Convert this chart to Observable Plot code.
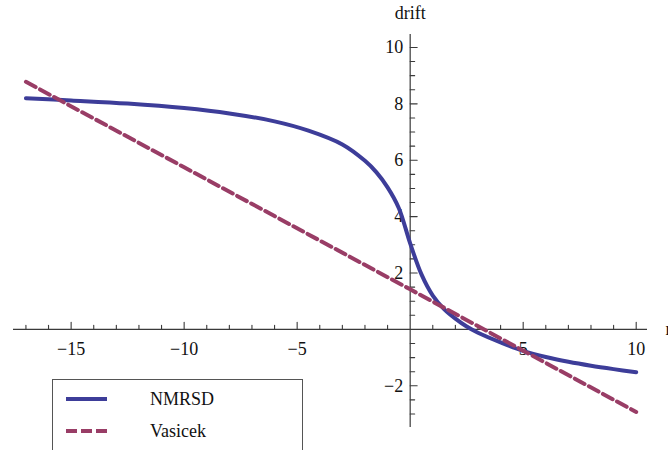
<!DOCTYPE html>
<html>
<head>
<meta charset="utf-8">
<script src="https://cdn.jsdelivr.net/npm/d3@7"></script>
<script src="https://cdn.jsdelivr.net/npm/@observablehq/plot@0.6"></script>
<style>
  html, body { margin: 0; padding: 0; background: #fff; }
  #wrap { position: relative; width: 668px; height: 450px; overflow: hidden; }
  #legend { position: absolute; left: 0; top: 0; }
  svg text { font-family: 'Liberation Serif', 'DejaVu Serif', serif; }
</style>
</head>
<body>
<div id="wrap"></div>
<script>
// ---- data ----
const nmrsdX = [-17, -15, -12.5, -10, -8, -6, -4.5, -3, -2, -1.5, -1, -0.5, 0, 0.5, 1, 1.5, 2, 2.5, 3, 4, 5, 6, 7, 8, 9, 10];
const nmrsdY = [8.2, 8.12, 8.01, 7.85, 7.66, 7.38, 7.05, 6.56, 5.98, 5.58, 5.04, 4.3, 3.05, 1.95, 1.2, 0.72, 0.38, 0.1, -0.12, -0.46, -0.76, -0.98, -1.15, -1.29, -1.41, -1.52];
const vasicekX = [-17, -10, 0, 10];
const vasicekY = [8.78, 5.75, 1.42, -2.93];
const xTickLabels = [-15, -10, -5, 5, 10];
const yTickLabels = [-2, 2, 4, 6, 8, 10];
const xMinor = [-17, -16, -14, -13, -12, -11, -9, -8, -7, -6, -4, -3, -2, -1, 1, 2, 3, 4, 6, 7, 8, 9];
const yMinor = [-3, -2.5, -1.5, -1, -0.5, 0.5, 1, 1.5, 2.5, 3, 3.5, 4.5, 5, 5.5, 6.5, 7, 7.5, 8.5, 9, 9.5];
const seriesNames = ["NMRSD", "Vasicek"];
const seriesColors = ["#3d3d99", "#993d66"];
const xAxisLabel = "r";
const yAxisLabel = "drift";

const nmrsd = nmrsdX.map((x, i) => ({x, y: nmrsdY[i]}));
const vasicek = vasicekX.map((x, i) => ({x, y: vasicekY[i]}));

const lineShape = {draw(ctx, l) { ctx.moveTo(0, 0); ctx.lineTo(0, -l); }};
const fmt = d => d < 0 ? "\u2212" + Math.abs(d) : String(d);
const axisColor = "#3a3a3a";
const font = "'Liberation Serif', 'DejaVu Serif', serif";

const chart = Plot.plot({
  width: 668,
  height: 450,
  marginLeft: 13,
  marginRight: 21,
  marginTop: 34,
  marginBottom: 23,
  x: {domain: [-17.55, 10.5], axis: null},
  y: {domain: [-3.48, 10.46], axis: null},
  style: {fontFamily: font, fontSize: "17px", background: "#fff", overflow: "visible"},
  marks: [
    Plot.ruleY([0], {x1: -17.55, x2: 10.5, stroke: axisColor, strokeWidth: 1.2}),
    Plot.ruleX([0], {y1: -3.48, y2: 10.46, stroke: axisColor, strokeWidth: 1.2}),
    Plot.vector(xTickLabels, {x: d => d, y: 0, length: 7, rotate: 0, anchor: "start", shape: lineShape, stroke: axisColor, strokeWidth: 1.1}),
    Plot.vector(xMinor, {x: d => d, y: 0, length: 4, rotate: 0, anchor: "start", shape: lineShape, stroke: axisColor, strokeWidth: 1.1}),
    Plot.vector(yTickLabels, {x: 0, y: d => d, length: 7, rotate: 90, anchor: "start", shape: lineShape, stroke: axisColor, strokeWidth: 1.1}),
    Plot.vector(yMinor, {x: 0, y: d => d, length: 4.5, rotate: 90, anchor: "start", shape: lineShape, stroke: axisColor, strokeWidth: 1.1}),
    Plot.text(xTickLabels, {x: d => d, y: 0, text: fmt, dy: 20, fill: "#111", fontSize: 18, fontFamily: font}),
    Plot.text(yTickLabels, {x: 0, y: d => d, text: fmt, dx: -7, textAnchor: "end", fill: "#111", fontSize: 18, fontFamily: font}),
    Plot.text([yAxisLabel], {x: 0, frameAnchor: "top", dy: -16, lineAnchor: "bottom", fill: "#111", fontSize: 18, fontFamily: font}),
    Plot.text([xAxisLabel], {x: 10.5, y: 0, dx: 18, textAnchor: "start", fill: "#111", fontSize: 18, fontFamily: font}),
    Plot.line(nmrsd, {x: "x", y: "y", stroke: seriesColors[0], strokeWidth: 4, curve: "catmull-rom"}),
    Plot.line(vasicek, {x: "x", y: "y", stroke: seriesColors[1], strokeWidth: 4, strokeDasharray: "11,5"})
  ]
});

const wrap = document.getElementById("wrap");
wrap.appendChild(chart);

// legend overlay
const leg = d3.select(wrap).append("svg").attr("id", "legend").attr("width", 668).attr("height", 450);
leg.append("rect").attr("x", 52.5).attr("y", 379.5).attr("width", 250).attr("height", 100)
  .attr("fill", "#fff").attr("stroke", "#555").attr("stroke-width", 1);
const rows = [399, 431];
seriesNames.forEach((name, i) => {
  leg.append("line").attr("x1", 66).attr("x2", 107).attr("y1", rows[i]).attr("y2", rows[i])
    .attr("stroke", seriesColors[i]).attr("stroke-width", 4)
    .attr("stroke-dasharray", i === 1 ? "11,4" : null);
  leg.append("text").attr("x", 150).attr("y", rows[i]).attr("dy", "0.35em")
    .attr("font-family", font).attr("font-size", 18).attr("fill", "#111").text(name);
});
</script>
</body>
</html>
